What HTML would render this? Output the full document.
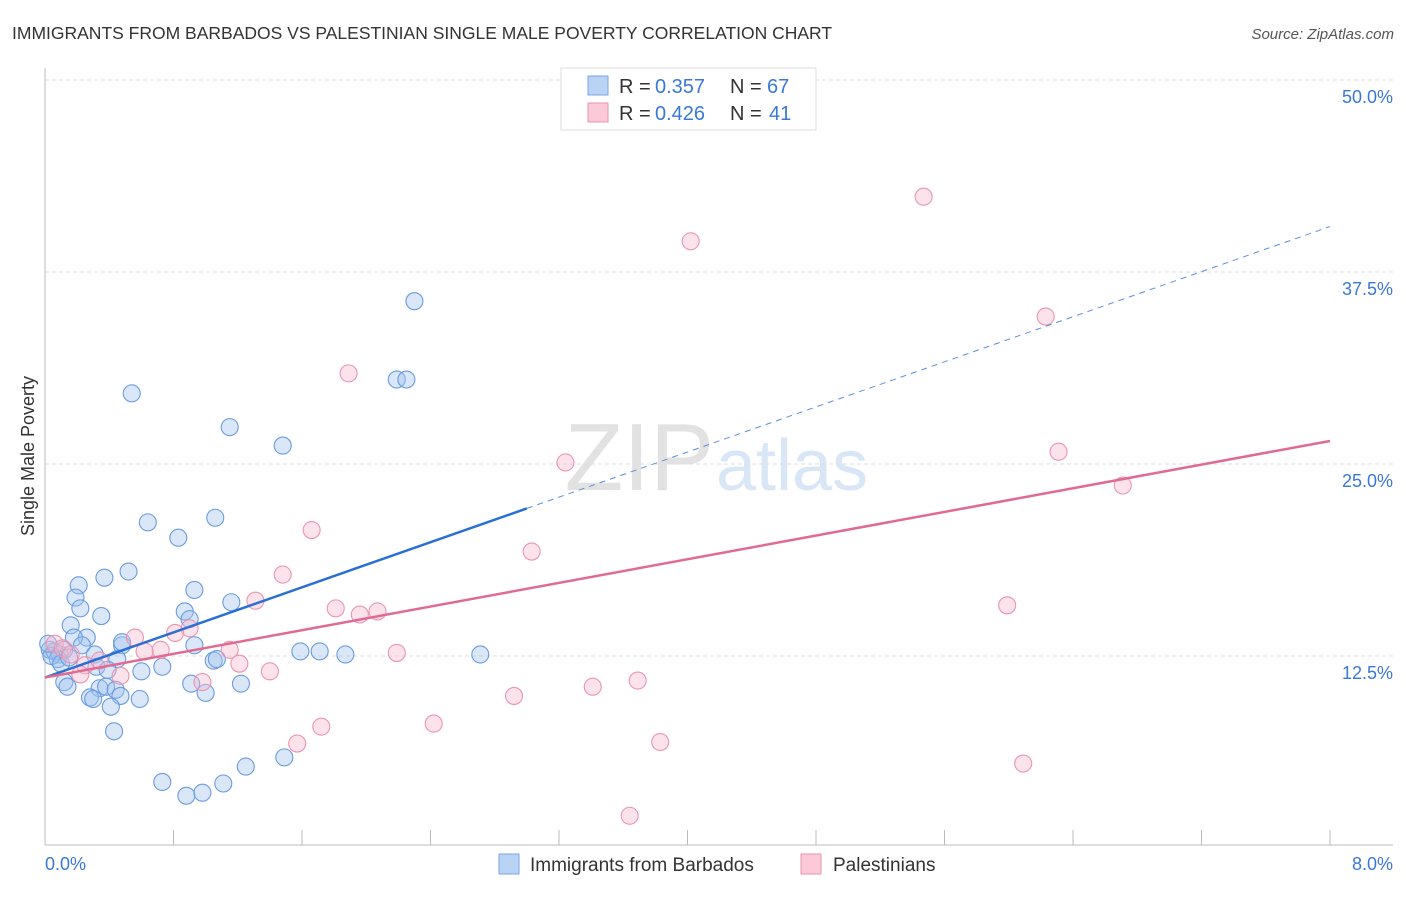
<!DOCTYPE html>
<html><head><meta charset="utf-8"><style>
body{margin:0;background:#fff;font-family:"Liberation Sans",sans-serif;}
svg text{font-family:"Liberation Sans",sans-serif;}
</style></head><body>
<svg width="1406" height="892" viewBox="0 0 1406 892">
<text x="12" y="39" font-size="17.5" fill="#333">IMMIGRANTS FROM BARBADOS VS PALESTINIAN SINGLE MALE POVERTY CORRELATION CHART</text>
<text x="1394" y="39" font-size="15" fill="#555" text-anchor="end" font-style="italic">Source: ZipAtlas.com</text>
<text x="714" y="490" font-size="96" fill="#e2e2e2" text-anchor="end" font-family="Liberation Serif">ZIP</text>
<text x="716" y="490" font-size="72" fill="#d8e6f6">atlas</text>
<g id="grid"></g>
<g id="axes"></g>
<g id="pts"></g>
<g id="trends"></g>
<text transform="translate(34,456) rotate(-90)" font-size="18" fill="#333" text-anchor="middle">Single Male Poverty</text>
<text x="45" y="870" font-size="18" fill="#3a78d8">0.0%</text>
<text x="1393" y="870" font-size="18" fill="#3a78d8" text-anchor="end">8.0%</text>
<g>
<rect x="561" y="68" width="255" height="62" fill="#fff" stroke="#ddd"/>
<rect x="588" y="76" width="20" height="19" fill="#b9d3f5" stroke="#7ba6e0"/>
<text x="619" y="93" font-size="20" fill="#333">R =</text>
<text x="655" y="93" font-size="20" fill="#3a78d8">0.357</text>
<text x="730" y="93" font-size="20" fill="#333">N =</text>
<text x="767" y="93" font-size="20" fill="#3a78d8">67</text>
<rect x="588" y="103" width="20" height="19" fill="#fbc9d7" stroke="#e995ae"/>
<text x="619" y="120" font-size="20" fill="#333">R =</text>
<text x="655" y="120" font-size="20" fill="#3a78d8">0.426</text>
<text x="730" y="120" font-size="20" fill="#333">N =</text>
<text x="769" y="120" font-size="20" fill="#3a78d8">41</text>
</g>
<g>
<rect x="499" y="854" width="20" height="20" fill="#b9d3f5" stroke="#7ba6e0"/>
<text x="530" y="871" font-size="19" fill="#333">Immigrants from Barbados</text>
<rect x="801" y="854" width="20" height="20" fill="#fbc9d7" stroke="#e995ae"/>
<text x="833" y="871" font-size="19" fill="#333">Palestinians</text>
</g>
</svg>
<script>
const yTicks=[12.5,25,37.5,50];
const yTickLabels=["12.5%","25.0%","37.5%","50.0%"];
const xTicks=[0.8,1.6,2.4,3.2,4.0,4.8,5.6,6.4,7.2,8.0];
const blueX=[2.30,2.19,2.25,0.54,1.15,1.48,0.64,1.06,0.83,0.52,0.37,0.21,0.19,0.93,0.22,1.16,0.87,0.35,0.90,0.16,0.26,0.18,0.23,0.48,0.93,0.03,0.06,0.09,0.12,0.08,0.04,0.31,0.45,0.32,0.39,0.73,0.60,1.05,1.07,1.59,1.71,1.87,2.71,0.12,0.14,0.91,1.22,0.34,0.38,0.44,0.47,0.28,0.30,0.59,1.00,0.41,0.43,0.73,0.88,0.98,1.11,1.25,1.49,0.48,0.02,0.10,0.15];
const blueY=[35.6,30.5,30.5,29.6,27.4,26.2,21.2,21.5,20.2,18.0,17.6,17.1,16.3,16.8,15.6,16.0,15.4,15.1,14.9,14.5,13.7,13.7,13.2,13.2,13.2,12.9,12.8,12.6,12.9,12.3,12.5,12.6,12.3,11.8,11.6,11.8,11.5,12.2,12.3,12.8,12.8,12.6,12.6,10.8,10.5,10.7,10.7,10.4,10.5,10.3,9.9,9.8,9.7,9.7,10.1,9.2,7.6,4.3,3.4,3.6,4.2,5.3,5.9,13.4,13.3,12.0,12.4];
const pinkX=[5.47,4.02,6.23,1.89,6.31,3.24,6.71,1.66,3.03,1.48,1.31,1.81,1.96,2.07,5.99,0.90,0.81,0.56,0.72,1.15,2.19,0.06,0.11,0.16,0.25,1.21,1.40,0.47,0.22,0.98,2.92,3.41,3.69,2.42,1.72,1.57,3.83,6.09,3.64,0.62,0.34];
const pinkY=[42.4,39.5,34.6,30.9,25.8,25.1,23.6,20.7,19.3,17.8,16.1,15.6,15.2,15.4,15.8,14.3,14.0,13.7,12.9,12.9,12.7,13.3,13.0,12.6,11.9,12.0,11.5,11.2,11.3,10.8,9.9,10.5,10.9,8.1,7.9,6.8,6.9,5.5,2.1,12.8,12.2];
const blueTrend={intercept:11.1,slope:3.67,solidEnd:3.0};
const pinkTrend={intercept:11.1,slope:1.925};
const X=v=>45+v/8*1285, Y=v=>848-v/50*768;
const NS='http://www.w3.org/2000/svg';
function mk(t,a,p){const e=document.createElementNS(NS,t);for(const k in a)e.setAttribute(k,a[k]);p.appendChild(e);return e;}
const grid=document.getElementById('grid');
yTicks.forEach((t,i)=>{
 const l=mk('line',{x1:45,x2:1393,y1:Y(t),y2:Y(t),stroke:'#ddd','stroke-dasharray':'4,3'},grid);
 
 
 const tx=mk('text',{x:1393,y:Y(t)+23,'font-size':18,fill:'#3a78d8','text-anchor':'end'},grid);
 tx.textContent=yTickLabels[i];
 
 
});
const ax=document.getElementById('axes');
let a1=mk('line',{x1:45,x2:45,y1:68,y2:845,stroke:'#bbb'},ax);


let a2=mk('line',{x1:45,x2:1393,y1:845,y2:845,stroke:'#bbb'},ax);


xTicks.forEach(t=>{
 const l=mk('line',{x1:X(t),x2:X(t),y1:830,y2:845,stroke:'#bbb'},ax);
 
 
});
const pts=document.getElementById('pts');
blueX.forEach((x,i)=>{
 const c=mk('circle',{cx:X(x),cy:Y(blueY[i]),r:8.5,fill:'rgba(160,196,240,0.4)',stroke:'#6a9be0','stroke-width':1.1},pts);
 
 
});
pinkX.forEach((x,i)=>{
 const c=mk('circle',{cx:X(x),cy:Y(pinkY[i]),r:8.5,fill:'rgba(248,184,204,0.4)',stroke:'#eb95b0','stroke-width':1.1},pts);
 
 
});
const tr=document.getElementById('trends');
const bf=v=>blueTrend.intercept+blueTrend.slope*v, pf=v=>pinkTrend.intercept+pinkTrend.slope*v;
let b1=mk('line',{x1:X(0),y1:Y(bf(0)),x2:X(blueTrend.solidEnd),y2:Y(bf(blueTrend.solidEnd)),stroke:'#2a6fd6','stroke-width':2.5},tr);


let b2=mk('line',{x1:X(blueTrend.solidEnd),y1:Y(bf(blueTrend.solidEnd)),x2:X(8),y2:Y(bf(8)),stroke:'#5b8fdb','stroke-width':1,'stroke-dasharray':'6,5'},tr);


let p1=mk('line',{x1:X(0),y1:Y(pf(0)),x2:X(8),y2:Y(pf(8)),stroke:'#e06a92','stroke-width':2.5},tr);


</script>
</body></html>
